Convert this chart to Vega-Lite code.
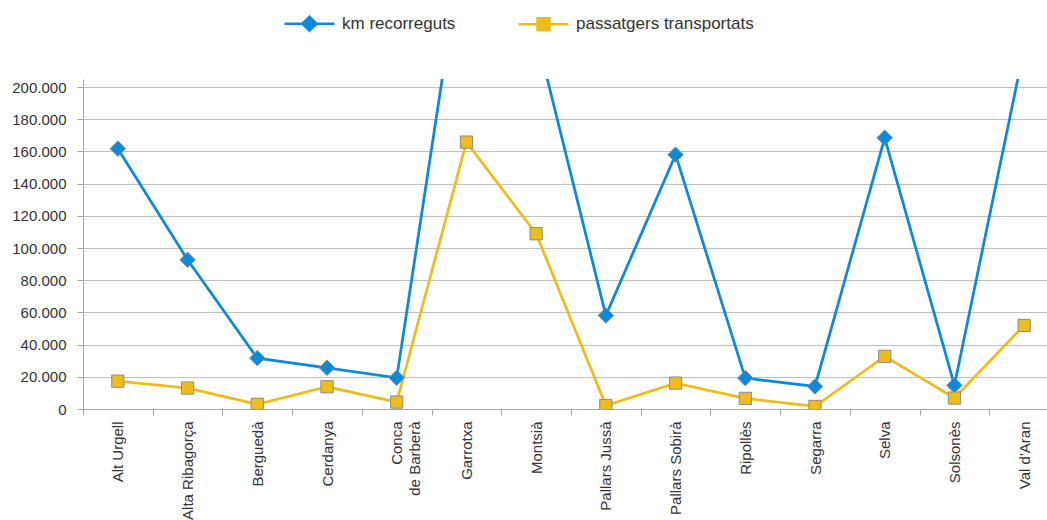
{
  "$schema": "https://vega.github.io/schema/vega-lite/v6.json",
  "autosize": {"type": "none"},
  "padding": {"left": 83, "top": 79, "right": -12, "bottom": 111},
  "width": 976,
  "height": 330,
  "background": "white",
  "config": {
    "view": {"stroke": null},
    "font": "Liberation Sans",
    "axis": {"labelFont": "Liberation Sans", "labelColor": "#333333", "labelFontSize": 15, "domainColor": "#a6a6a6", "tickColor": "#a6a6a6", "gridColor": "#bfbfbf", "title": null}
  },
  "data": {
    "values": [
      {"comarca": "Alt Urgell", "serie": "km recorreguts", "valor": 161700},
      {"comarca": "Alta Ribagorça", "serie": "km recorreguts", "valor": 92700},
      {"comarca": "Berguedà", "serie": "km recorreguts", "valor": 31600},
      {"comarca": "Cerdanya", "serie": "km recorreguts", "valor": 25600},
      {"comarca": "Conca de Barberà", "serie": "km recorreguts", "valor": 19400},
      {"comarca": "Garrotxa", "serie": "km recorreguts", "valor": 304000},
      {"comarca": "Montsià", "serie": "km recorreguts", "valor": 233000},
      {"comarca": "Pallars Jussà", "serie": "km recorreguts", "valor": 58100},
      {"comarca": "Pallars Sobirà", "serie": "km recorreguts", "valor": 158000},
      {"comarca": "Ripollès", "serie": "km recorreguts", "valor": 19200},
      {"comarca": "Segarra", "serie": "km recorreguts", "valor": 14000},
      {"comarca": "Selva", "serie": "km recorreguts", "valor": 168500},
      {"comarca": "Solsonès", "serie": "km recorreguts", "valor": 14700},
      {"comarca": "Val d'Aran", "serie": "km recorreguts", "valor": 224000},
      {"comarca": "Alt Urgell", "serie": "passatgers transportats", "valor": 17300},
      {"comarca": "Alta Ribagorça", "serie": "passatgers transportats", "valor": 13000},
      {"comarca": "Berguedà", "serie": "passatgers transportats", "valor": 2900},
      {"comarca": "Cerdanya", "serie": "passatgers transportats", "valor": 13800},
      {"comarca": "Conca de Barberà", "serie": "passatgers transportats", "valor": 4300},
      {"comarca": "Garrotxa", "serie": "passatgers transportats", "valor": 165800},
      {"comarca": "Montsià", "serie": "passatgers transportats", "valor": 108900},
      {"comarca": "Pallars Jussà", "serie": "passatgers transportats", "valor": 2200},
      {"comarca": "Pallars Sobirà", "serie": "passatgers transportats", "valor": 16100},
      {"comarca": "Ripollès", "serie": "passatgers transportats", "valor": 6600},
      {"comarca": "Segarra", "serie": "passatgers transportats", "valor": 1600},
      {"comarca": "Selva", "serie": "passatgers transportats", "valor": 32700},
      {"comarca": "Solsonès", "serie": "passatgers transportats", "valor": 6800},
      {"comarca": "Val d'Aran", "serie": "passatgers transportats", "valor": 51900}
    ]
  },
  "encoding": {
    "x": {
      "field": "comarca", "type": "nominal", "sort": null,
      "scale": {"type": "band", "paddingInner": 0, "paddingOuter": 0},
      "axis": {
        "labelAngle": -90, "labelAlign": "right", "labelBaseline": "middle",
        "labelPadding": 6, "tickSize": 6, "tickBand": "extent", "labelLimit": 0,
        "labelLineHeight": 18,
        "labelExpr": "datum.label == 'Conca de Barberà' ? ['Conca', 'de Barberà'] : datum.label"
      }
    },
    "y": {
      "field": "valor", "type": "quantitative",
      "scale": {"domain": [0, 205000], "nice": false},
      "axis": {
        "values": [0, 20000, 40000, 60000, 80000, 100000, 120000, 140000, 160000, 180000, 200000],
        "labelExpr": "datum.value == 0 ? '0' : replace(format(datum.value, ','), ',', '.')",
        "tickSize": 6, "labelPadding": 11, "grid": true
      }
    }
  },
  "layer": [
    {
      "mark": {"type": "line", "strokeWidth": 2.75, "clip": true},
      "encoding": {
        "color": {
          "field": "serie", "type": "nominal",
          "scale": {"domain": ["km recorreguts", "passatgers transportats"], "range": ["#0a8ad8", "#eebd1c"]},
          "legend": {
            "orient": "none", "legendX": 200, "legendY": -82, "direction": "horizontal",
            "title": null, "symbolSize": 2500, "symbolStrokeWidth": 2.5,
            "labelFontSize": 17, "labelFont": "Liberation Sans", "labelColor": "#333333",
            "labelOffset": 6, "labelLimit": 0, "columnPadding": 57, "padding": 0,
            "encode": {
              "symbols": {
                "update": {
                  "shape": {"signal": "datum.value === 'km recorreguts' ? 'M-1,0H-0.28M0.28,0H1M-0.28,0L0,-0.28L0.28,0L0,0.28Z' : 'M-1,0H-0.24M0.24,0H1M-0.24,-0.24H0.24V0.24H-0.24Z'"},
                  "fill": {"scale": "color", "field": "value"}
                }
              }
            }
          }
        }
      }
    },
    {
      "transform": [{"filter": "datum.serie === 'km recorreguts'"}],
      "mark": {"type": "point", "shape": "diamond", "filled": true, "opacity": 1, "fill": "#0a8ad8", "stroke": "#8c8c8c", "strokeWidth": 1, "size": 240, "clip": true}
    },
    {
      "transform": [{"filter": "datum.serie === 'passatgers transportats'"}],
      "mark": {"type": "point", "shape": "square", "filled": true, "opacity": 1, "fill": "#eebd1c", "stroke": "#8c8c8c", "strokeWidth": 1, "size": 150, "clip": true}
    }
  ]
}
